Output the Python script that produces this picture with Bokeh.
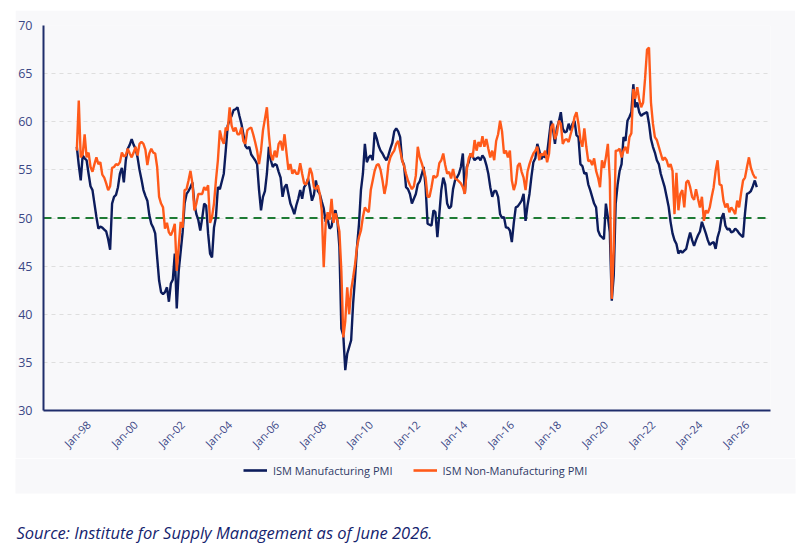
from math import pi
from bokeh.plotting import figure
from bokeh.layouts import column
from bokeh.models import (Range1d, FixedTicker, Span, Legend, LegendItem, Label)
from bokeh.embed import file_html
from bokeh.resources import INLINE

# ---------------- data (monthly, Jul 1997 .. Jun 2026) ----------------
first_month_offset = -6          # Jul 1997 measured in months from Jan 1998

mfg = [
    57.4, 55.5, 53.9, 56.5, 56.2, 56.0,                                   # 1997 H2
    54.6, 53.3, 52.9, 51.5, 50.1, 48.9, 49.1, 49.0, 48.8, 48.6, 47.8, 46.7,  # 1998
    51.5, 52.2, 52.4, 53.2, 54.6, 55.2, 53.7, 56.0, 57.2, 57.6, 58.2, 57.6,  # 1999
    57.2, 56.3, 55.0, 54.0, 52.9, 52.3, 51.8, 50.3, 49.4, 49.0, 48.4, 45.9,  # 2000
    43.5, 42.3, 42.1, 42.3, 42.8, 41.3, 43.2, 43.6, 46.3, 40.6, 44.5, 46.5,  # 2001
    48.5, 51.5, 52.5, 52.8, 53.2, 53.7, 51.5, 50.4, 49.8, 48.7, 50.0, 51.5,  # 2002
    51.3, 48.4, 46.3, 45.9, 49.0, 50.1, 53.2, 53.0, 53.8, 54.6, 57.0, 59.6,  # 2003
    60.2, 60.6, 61.2, 61.3, 61.5, 60.6, 59.8, 58.7, 57.5, 57.2, 57.4, 56.6,  # 2004
    56.3, 56.0, 55.6, 52.9, 50.8, 52.2, 52.8, 54.6, 57.4, 56.0, 55.3, 55.6,  # 2005
    55.5, 54.8, 54.2, 52.2, 53.2, 53.5, 52.5, 51.5, 51.0, 50.4, 51.3, 52.0,  # 2006
    52.9, 52.0, 53.2, 53.5, 54.1, 53.0, 51.8, 52.4, 53.9, 52.8, 52.5, 51.7,  # 2007
    51.0, 49.6, 49.9, 48.9, 49.1, 50.4, 50.8, 49.7, 47.0, 38.5, 37.8, 34.2,  # 2008
    35.9, 36.6, 37.3, 41.1, 43.8, 47.0, 49.4, 52.9, 54.6, 57.7, 55.8, 56.3,  # 2009
    56.5, 56.0, 58.9, 58.3, 57.5, 57.0, 56.7, 56.3, 56.0, 56.5, 57.2, 57.8,  # 2010
    59.0, 59.3, 59.0, 58.4, 56.0, 55.5, 53.2, 53.0, 52.5, 51.5, 52.0, 52.5,  # 2011
    53.5, 53.8, 54.5, 55.3, 53.2, 49.4, 49.3, 49.2, 50.8, 50.6, 48.0, 50.4,  # 2012
    52.9, 54.2, 53.5, 51.5, 51.0, 51.2, 53.0, 53.9, 54.2, 54.6, 55.3, 56.7,  # 2013
    52.5, 55.3, 55.8, 56.7, 56.4, 56.0, 56.2, 56.3, 56.0, 56.5, 56.2, 55.5,  # 2014
    54.6, 53.2, 52.2, 52.8, 52.8, 52.2, 50.4, 50.0, 50.1, 49.0, 49.0, 48.7,  # 2015
    47.5, 49.5, 51.1, 51.2, 51.5, 51.8, 52.5, 49.7, 51.3, 52.5, 54.3, 55.8,  # 2016
    56.2, 57.7, 57.0, 56.1, 56.5, 56.3, 56.7, 58.4, 60.1, 59.2, 57.7, 59.4,  # 2017
    60.0, 61.0, 59.3, 58.9, 59.0, 59.8, 59.1, 59.8, 60.1, 58.6, 58.4, 55.6,  # 2018
    55.4, 54.6, 54.7, 53.5, 52.9, 52.2, 51.5, 51.1, 48.7, 48.2, 48.0, 47.8,  # 2019
    51.5, 50.1, 48.5, 41.4, 44.0, 51.5, 53.5, 54.9, 55.6, 58.4, 58.0, 60.1,  # 2020
    60.5, 61.0, 63.9, 61.5, 62.0, 61.0, 60.6, 60.8, 60.9, 61.0, 59.8, 58.2,  # 2021
    57.4, 56.8, 56.0, 55.6, 54.6, 53.9, 53.2, 52.2, 51.2, 49.6, 48.4, 47.7,  # 2022
    47.3, 46.3, 46.6, 46.4, 46.6, 46.8, 47.7, 48.5, 47.7, 47.1, 47.7, 48.2,  # 2023
    48.6, 49.6, 49.0, 48.4, 47.7, 47.2, 47.4, 47.5, 46.8, 48.0, 48.7, 50.0,  # 2024
    50.5, 49.2, 48.8, 48.9, 48.5, 48.6, 48.9, 48.7, 48.4, 48.2, 48.0, 50.5,  # 2025
    52.5, 52.6, 52.8, 53.3, 53.9, 53.2,                                   # 2026 H1
]

non_mfg = [
    57.0, 62.2, 56.3, 56.6, 58.7, 56.3,                                   # 1997 H2
    56.8, 55.3, 54.8, 55.6, 56.3, 55.6, 55.8, 54.5, 54.2, 53.6, 52.9, 53.3,  # 1998
    55.2, 55.3, 55.6, 55.5, 55.8, 56.8, 56.4, 56.5, 57.2, 56.7, 56.3, 56.8,  # 1999
    57.4, 56.5, 57.7, 57.9, 57.7, 57.1, 55.5, 56.7, 57.2, 56.8, 56.7, 55.3,  # 2000
    52.2, 51.5, 51.1, 48.9, 49.5, 48.5, 48.2, 48.7, 49.4, 44.5, 47.0, 49.6,  # 2001
    49.0, 52.9, 53.0, 53.9, 54.9, 53.6, 50.8, 51.5, 52.5, 52.5, 52.5, 53.2,  # 2002
    52.9, 53.4, 49.5, 50.1, 51.5, 53.9, 56.0, 59.1, 58.2, 57.7, 59.4, 59.1,  # 2003
    61.5, 59.6, 59.0, 59.4, 58.7, 58.7, 59.4, 58.0, 57.7, 59.1, 59.3, 59.4,  # 2004
    58.7, 57.9, 57.0, 55.6, 57.0, 59.1, 60.3, 61.5, 58.7, 56.6, 56.0, 57.0,  # 2005
    56.3, 57.7, 58.0, 57.0, 58.7, 56.8, 55.0, 55.6, 54.6, 55.0, 54.6, 54.6,  # 2006
    55.7, 54.6, 53.6, 53.5, 54.0, 55.2, 54.6, 53.2, 53.0, 53.4, 52.5, 50.8,  # 2007
    44.9, 49.4, 50.6, 49.8, 52.0, 49.5, 50.5, 49.7, 48.6, 44.5, 37.6, 39.3,  # 2008
    42.8, 40.0, 42.5, 43.8, 45.2, 47.0, 48.0, 48.7, 50.1, 51.1, 50.8, 50.6,  # 2009
    52.9, 53.9, 54.9, 55.5, 55.6, 55.0, 53.9, 52.5, 53.5, 55.5, 56.3, 56.7,  # 2010
    57.0, 57.7, 58.0, 57.0, 56.0, 55.4, 54.6, 53.9, 53.4, 53.0, 53.3, 54.4,  # 2011
    57.4, 56.3, 55.7, 55.0, 54.2, 52.2, 52.2, 53.2, 54.4, 54.2, 54.4, 55.7,  # 2012
    56.0, 56.7, 55.5, 54.6, 54.8, 54.1, 55.1, 54.1, 54.0, 53.8, 53.6, 53.2,  # 2013
    52.5, 55.0, 56.2, 56.7, 56.3, 58.1, 57.0, 57.9, 57.4, 58.5, 57.4, 58.2,  # 2014
    57.2, 56.3, 57.0, 56.0, 58.0, 58.7, 60.1, 59.0, 56.7, 57.0, 56.3, 57.0,  # 2015
    53.9, 52.9, 53.6, 55.4, 55.7, 54.8, 54.2, 52.9, 54.8, 55.6, 56.2, 56.7,  # 2016
    57.0, 57.4, 56.0, 56.7, 56.5, 57.0, 55.8, 56.7, 59.4, 59.8, 58.2, 58.8,  # 2017
    60.1, 59.8, 57.7, 58.1, 58.2, 57.9, 58.7, 59.4, 60.5, 61.0, 59.8, 58.1,  # 2018
    57.4, 59.3, 57.4, 55.9, 56.0, 55.5, 56.2, 54.9, 54.2, 53.2, 56.0, 55.2,  # 2019
    56.3, 57.7, 54.0, 41.6, 46.8, 57.0, 57.0, 57.2, 56.3, 57.0, 57.4, 56.7,  # 2020
    58.4, 58.8, 63.4, 62.4, 63.6, 62.3, 61.5, 62.0, 64.5, 67.5, 67.7, 62.0,  # 2021
    59.8, 58.4, 58.1, 57.4, 56.7, 56.0, 56.3, 56.0, 55.3, 55.6, 54.9, 50.4,  # 2022
    54.7, 50.8, 52.5, 52.9, 51.1, 53.7, 53.9, 53.2, 52.2, 51.9, 53.0, 52.0,  # 2023
    51.1, 52.2, 49.7, 50.8, 50.5, 51.1, 52.2, 53.2, 54.9, 56.0, 53.5, 53.4,  # 2024
    51.8, 51.1, 51.5, 50.6, 51.1, 50.8, 50.4, 51.8, 51.1, 52.6, 53.9, 54.2,  # 2025
    55.3, 56.3, 55.2, 54.6, 54.2, 54.2,                                   # 2026 H1
]

tick_months = [0, 24, 48, 72, 96, 120, 144, 168, 192, 216, 240, 264, 288, 312, 336]
tick_labels = ["Jan-98", "Jan-00", "Jan-02", "Jan-04", "Jan-06", "Jan-08",
               "Jan-10", "Jan-12", "Jan-14", "Jan-16", "Jan-18", "Jan-20",
               "Jan-22", "Jan-24", "Jan-26"]
y_ticks = [30, 35, 40, 45, 50, 55, 60, 65, 70]
series_names = ["ISM Manufacturing PMI", "ISM Non-Manufacturing PMI"]
source_text = "Source: Institute for Supply Management as of June 2026."

x = [first_month_offset + i for i in range(len(mfg))]

# ---------------- styling ----------------
NAVY = "#0c1c5c"
ORANGE = "#ff5a1a"
AXIS = "#1f2d6b"
LABEL = "#3b4786"
FONT = "Open Sans"
PANEL = "#f8f8fa"

# ---------------- main chart (panel starts 15px in, 10px down) ----------------
p = figure(width=780, height=448, margin=(10, 13, 0, 15),
           x_range=Range1d(-23, 348), y_range=Range1d(30, 70),
           output_backend="svg", toolbar_location=None,
           min_border_left=25, min_border_right=25,
           min_border_top=15, min_border_bottom=48,
           background_fill_color=PANEL, border_fill_color=PANEL)
p.frame_align = False
p.outline_line_color = None

p.xgrid.visible = False
p.ygrid.ticker = FixedTicker(ticks=y_ticks[1:])
p.ygrid.grid_line_color = "#dedede"
p.ygrid.grid_line_dash = "4 4"
p.ygrid.grid_line_width = 1

p.yaxis.ticker = FixedTicker(ticks=y_ticks)
p.yaxis.major_tick_line_color = None
p.yaxis.minor_tick_line_color = None
p.yaxis.axis_line_color = AXIS
p.yaxis.axis_line_width = 2
p.yaxis.major_label_text_color = LABEL
p.yaxis.major_label_text_font = FONT
p.yaxis.major_label_text_font_size = "12.5px"
p.yaxis.major_label_standoff = 5

p.xaxis.ticker = FixedTicker(ticks=tick_months)
p.xaxis.major_label_overrides = {m: lab for m, lab in zip(tick_months, tick_labels)}
p.xaxis.major_label_orientation = pi / 4
p.xaxis.major_tick_line_color = None
p.xaxis.minor_tick_line_color = None
p.xaxis.axis_line_color = AXIS
p.xaxis.axis_line_width = 2
p.xaxis.major_label_text_color = LABEL
p.xaxis.major_label_text_font = FONT
p.xaxis.major_label_text_font_size = "11px"
p.xaxis.major_label_standoff = 6

ref = Span(location=50, dimension="width", line_color="#1e7b34",
           line_dash="8 6", line_width=1.8, level="underlay")
p.add_layout(ref)

p.line(x, mfg, line_color=NAVY, line_width=2.4)
p.line(x, non_mfg, line_color=ORANGE, line_width=2.4)

# ---------------- legend + source strip (pixel coordinates) ----------------
SH = 98
s = figure(width=808, height=SH, x_range=Range1d(0, 808), y_range=Range1d(SH, 0),
           output_backend="svg", toolbar_location=None,
           x_axis_location=None, y_axis_location=None,
           min_border_left=0, min_border_right=0,
           min_border_top=0, min_border_bottom=0,
           border_fill_color="white", background_fill_color="white")
s.frame_align = False
s.outline_line_color = None
s.xgrid.visible = False
s.ygrid.visible = False

s.quad(left=[15], right=[795], top=[0], bottom=[35], fill_color=PANEL, line_color=None)

# off-screen line stubs that only supply the legend glyphs
k1 = s.line([-50, -40], [-50, -50], line_color=NAVY, line_width=2.6)
k2 = s.line([-50, -40], [-50, -50], line_color=ORANGE, line_width=2.6)
legend = Legend(items=[LegendItem(label=series_names[0], renderers=[k1]),
                       LegendItem(label=series_names[1], renderers=[k2])],
                orientation="horizontal", location=(243, SH - 22),
                padding=0, margin=0, spacing=20,
                glyph_width=24, glyph_height=20, label_standoff=6,
                border_line_color=None, background_fill_alpha=0,
                label_text_font=FONT, label_text_font_size="11px",
                label_text_color="#2f3a66")
s.add_layout(legend)

src = Label(x=16, y=74, text=source_text, text_font=FONT,
            text_font_style="italic", text_font_size="16.5px",
            text_color="#15246e", text_baseline="alphabetic")
s.add_layout(src)

layout = column(p, s, spacing=0)
open("out.html", "w").write(file_html(layout, INLINE))
